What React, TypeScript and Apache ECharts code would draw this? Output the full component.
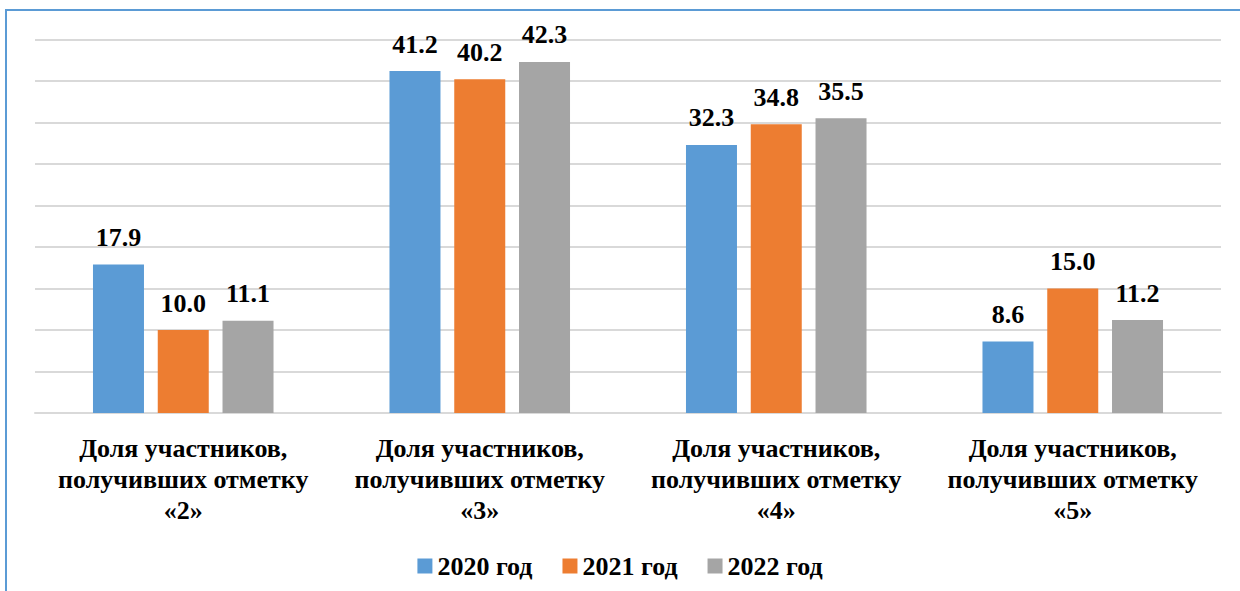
import React, { useEffect, useRef } from "react";
import * as echarts from "echarts";

const categories = [
  "Доля участников,\nполучивших отметку\n«2»",
  "Доля участников,\nполучивших отметку\n«3»",
  "Доля участников,\nполучивших отметку\n«4»",
  "Доля участников,\nполучивших отметку\n«5»",
];
const seriesNames = ["2020 год", "2021 год", "2022 год"];
const values2020 = [17.9, 41.2, 32.3, 8.6];
const values2021 = [10.0, 40.2, 34.8, 15.0];
const values2022 = [11.1, 42.3, 35.5, 11.2];
const colors = ["#5b9bd5", "#ed7d31", "#a5a5a5"];

const FONT = "Liberation Serif";

export default function App() {
  const ref = useRef<HTMLDivElement>(null);
  useEffect(() => {
    if (!ref.current) return;
    const chart = echarts.init(ref.current, undefined, { renderer: "svg" });
    const allValues = [values2020, values2021, values2022];
    chart.setOption({
      animation: false,
      backgroundColor: "#ffffff",
      textStyle: { fontFamily: FONT, fontWeight: "bold", color: "#000" },
      grid: { left: 35, right: 19, top: 39.5, bottom: 178, containLabel: false },
      legend: {
        top: 548,
        left: "center",
        itemWidth: 15,
        itemHeight: 15,
        itemGap: 30,
        icon: "rect",
        textStyle: { fontFamily: FONT, fontWeight: "bold", fontSize: 26, color: "#000" },
        data: seriesNames,
      },
      xAxis: {
        type: "category",
        data: categories,
        axisTick: { show: false },
        axisLine: { show: true, lineStyle: { color: "#d9d9d9", width: 2 } },
        axisLabel: {
          interval: 0,
          margin: 20,
          fontFamily: FONT,
          fontWeight: "bold",
          fontSize: 26,
          lineHeight: 31,
          color: "#000",
        },
      },
      yAxis: {
        type: "value",
        min: 0,
        max: 45,
        interval: 5,
        axisLabel: { show: false },
        axisLine: { show: false },
        axisTick: { show: false },
        splitLine: { lineStyle: { color: "#d9d9d9", width: 2 } },
      },
      series: seriesNames.map((name, i) => ({
        name,
        type: "bar",
        data: allValues[i],
        barWidth: 51,
        barGap: "27%",
        itemStyle: { color: colors[i] },
        label: {
          show: true,
          position: "top",
          distance: 14,
          formatter: (p: any) => Number(p.value).toFixed(1),
          fontFamily: FONT,
          fontWeight: "bold",
          fontSize: 26,
          color: "#000",
        },
      })),
      graphic: [
        { type: "line", shape: { x1: 5, y1: 10, x2: 1240, y2: 10 }, style: { stroke: "#5b9bd5", lineWidth: 2 } },
        { type: "line", shape: { x1: 6, y1: 10, x2: 6, y2: 591 }, style: { stroke: "#5b9bd5", lineWidth: 2 } },
      ],
    });
    return () => chart.dispose();
  }, []);
  return (
    <div
      ref={ref}
      style={{ position: "fixed", left: 0, top: 0, width: 1240, height: 591 }}
    />
  );
}
